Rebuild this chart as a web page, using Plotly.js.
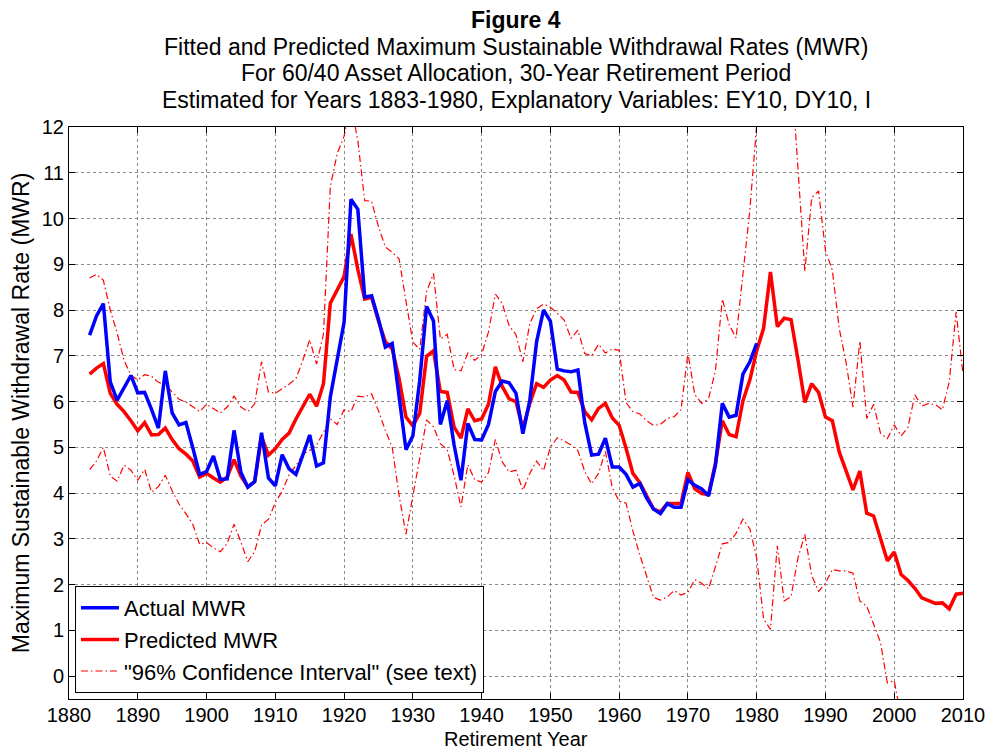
<!DOCTYPE html>
<html>
<head>
<meta charset="utf-8">
<script src="https://cdn.plot.ly/plotly-3.0.1.min.js"></script>
<style>html,body{margin:0;padding:0;background:#fff;}#chart{width:991px;height:751px;}</style>
</head>
<body>
<div id="chart"></div>
<script>
// ---- Data ----
var startYear = 1883;
var endYearActual = 1980;
var endYear = 2010;

var actualMWR = [7.45, 7.87, 8.14, 6.43, 6.03, 6.30, 6.57, 6.19, 6.20, 5.83,
  5.42, 6.67, 5.75, 5.49, 5.54, 4.99, 4.41, 4.47, 4.81, 4.30,
  4.31, 5.37, 4.45, 4.13, 4.25, 5.32, 4.33, 4.16, 4.84, 4.53,
  4.41, 4.83, 5.27, 4.59, 4.66, 6.10, 6.92, 7.73, 10.42, 10.20,
  8.28, 8.31, 7.80, 7.19, 7.27, 6.18, 4.95, 5.25, 6.46, 8.08,
  7.76, 5.50, 6.02, 5.05, 4.28, 5.52, 5.17, 5.16, 5.50, 6.22,
  6.45, 6.41, 6.18, 5.30, 6.02, 7.31, 8.00, 7.76, 6.71, 6.67,
  6.65, 6.69, 5.54, 4.83, 4.85, 5.20, 4.57, 4.57, 4.41, 4.13,
  4.21, 3.89, 3.65, 3.55, 3.77, 3.69, 3.69, 4.29, 4.17, 4.09,
  3.94, 4.61, 5.96, 5.66, 5.70, 6.60, 6.87, 7.27];

var predictedMWR = [6.60, 6.73, 6.83, 6.18, 5.94, 5.78, 5.58, 5.36, 5.54, 5.27,
  5.28, 5.42, 5.17, 4.97, 4.85, 4.70, 4.35, 4.43, 4.33, 4.24,
  4.35, 4.73, 4.37, 4.14, 4.25, 5.23, 4.83, 4.97, 5.17, 5.31,
  5.62, 5.90, 6.16, 5.90, 6.39, 8.15, 8.45, 8.73, 9.66, 8.89,
  8.24, 8.28, 7.76, 7.31, 7.15, 6.50, 5.66, 5.47, 5.74, 6.99,
  7.11, 6.22, 6.20, 5.44, 5.20, 5.84, 5.58, 5.62, 5.94, 6.76,
  6.33, 6.06, 6.00, 5.40, 5.96, 6.39, 6.31, 6.47, 6.57, 6.47,
  6.21, 6.20, 5.78, 5.60, 5.85, 5.96, 5.64, 5.48, 4.98, 4.43,
  4.23, 3.93, 3.65, 3.59, 3.77, 3.77, 3.77, 4.45, 4.09, 3.99,
  3.97, 4.65, 5.58, 5.28, 5.23, 6.02, 6.47, 7.11, 7.60, 8.83,
  7.64, 7.82, 7.79, 6.92, 5.98, 6.39, 6.20, 5.66, 5.58, 4.90,
  4.49, 4.07, 4.48, 3.56, 3.50, 3.04, 2.52, 2.71, 2.22, 2.09,
  1.92, 1.71, 1.65, 1.59, 1.60, 1.47, 1.79, 1.81];

var ciUpper = [8.70, 8.78, 8.65, 8.00, 7.50, 6.90, 6.58, 6.47, 6.59, 6.55,
  6.42, 6.37, 6.21, 6.05, 5.99, 5.89, 5.78, 5.94, 5.84, 5.75,
  5.88, 6.12, 5.88, 5.78, 5.95, 6.87, 6.21, 6.18, 6.28, 6.38,
  6.50, 6.90, 7.35, 6.82, 7.47, 10.70, 11.42, 11.80, 12.50, 11.70,
  10.39, 10.38, 9.82, 9.38, 9.26, 9.12, 8.20, 7.30, 7.14, 8.40,
  8.80, 7.37, 7.47, 6.70, 6.67, 7.06, 6.90, 7.03, 7.52, 8.35,
  8.14, 7.66, 7.46, 6.87, 7.70, 8.03, 8.13, 8.06, 7.93, 7.78,
  7.38, 7.56, 7.05, 7.00, 7.25, 7.06, 7.15, 7.12, 5.98, 5.78,
  5.73, 5.58, 5.48, 5.50, 5.63, 5.67, 5.82, 7.06, 6.15, 5.96,
  6.06, 6.67, 8.24, 7.68, 7.39, 8.77, 10.18, 12.05, 13.50, 14.50,
  14.00, 13.80, 13.35, 11.10, 8.85, 10.46, 10.60, 9.30, 8.87, 7.60,
  6.85, 5.88, 7.32, 5.63, 5.94, 5.31, 5.19, 5.49, 5.25, 5.44,
  6.15, 5.90, 5.96, 5.93, 5.82, 6.43, 7.96, 6.60];

var ciLower = [4.51, 4.70, 5.00, 4.37, 4.26, 4.61, 4.50, 4.28, 4.52, 4.02,
  4.14, 4.39, 4.05, 3.76, 3.55, 3.32, 2.88, 2.92, 2.80, 2.72,
  2.90, 3.32, 2.93, 2.50, 2.72, 3.30, 3.43, 3.79, 4.04, 4.40,
  4.60, 4.85, 4.93, 5.05, 5.33, 5.62, 5.50, 5.82, 5.78, 6.12,
  6.10, 6.17, 5.80, 5.37, 5.00, 3.95, 3.10, 3.92, 4.80, 5.60,
  5.45, 5.08, 4.95, 4.38, 3.70, 4.62, 4.29, 4.24, 4.45, 5.17,
  4.68, 4.46, 4.50, 4.06, 4.43, 4.70, 4.49, 5.00, 5.21, 5.14,
  5.05, 4.93, 4.47, 4.20, 4.43, 4.91, 4.12, 3.82, 3.78, 3.17,
  2.65, 2.20, 1.72, 1.66, 1.73, 1.87, 1.77, 1.83, 2.11, 2.03,
  1.91, 2.39, 2.89, 2.92, 3.12, 3.43, 3.22, 2.58, 1.25, 1.02,
  2.85, 1.64, 1.74, 2.58, 3.10, 2.20, 1.85, 2.03, 2.33, 2.30,
  2.30, 2.25, 1.64, 1.53, 1.15, 0.74, -0.15, -0.10, -0.90, null,
  null, null, null, null, null, null, null, null];

var xTickVals = [1880, 1890, 1900, 1910, 1920, 1930, 1940, 1950, 1960, 1970, 1980, 1990, 2000, 2010];
var yTickVals = [0, 1, 2, 3, 4, 5, 6, 7, 8, 9, 10, 11, 12];

var titleLines = [
  "<b>Figure 4</b>",
  "Fitted and Predicted Maximum Sustainable Withdrawal Rates (MWR)",
  "For 60/40 Asset Allocation, 30-Year Retirement Period",
  "Estimated for Years 1883-1980, Explanatory Variables: EY10, DY10, I"
];
var legendNames = ["Actual MWR", "Predicted MWR", "\"96% Confidence Interval\" (see text)"];
var xTitle = "Retirement Year";
var yTitle = "Maximum Sustainable Withdrawal Rate (MWR)";

// ---- Build ----
var yearsAll = [];
for (var y = startYear; y <= endYear; y++) yearsAll.push(y);
var yearsActual = yearsAll.slice(0, endYearActual - startYear + 1);

var FONT = "Arial, 'Liberation Sans', sans-serif";
var ciDash = "7px,3px,1.5px,3px";

var traces = [
  {x: yearsAll, y: ciLower, mode: "lines", name: legendNames[2], legendgroup: "ci", showlegend: false,
   line: {color: "#ff0000", width: 1.2, dash: ciDash}, connectgaps: false},
  {x: yearsAll, y: ciUpper, mode: "lines", name: legendNames[2], legendgroup: "ci", legendrank: 3,
   line: {color: "#ff0000", width: 1.2, dash: ciDash}},
  {x: yearsAll, y: predictedMWR, mode: "lines", name: legendNames[1], legendrank: 2,
   line: {color: "#ff0000", width: 3.5}},
  {x: yearsActual, y: actualMWR, mode: "lines", name: legendNames[0], legendrank: 1,
   line: {color: "#0000ff", width: 3.5}}
];

var plotTop = 127, plotBottom = 699, H = plotBottom - plotTop;
function py(p) { return (plotBottom - p) / H; }
var titleY = [20, 47, 73, 100];
var titleSize = [23, 23, 23, 23];
var annotations = titleLines.map(function (t, i) {
  return {text: t, xref: "paper", yref: "paper", x: 0.5, y: py(titleY[i]), xanchor: "center", yanchor: "middle",
          showarrow: false, font: {family: FONT, size: titleSize[i], color: "#000"}};
});
annotations.push({text: xTitle, xref: "paper", yref: "paper", x: 0.5, y: py(750.5), xanchor: "center", yanchor: "bottom",
                  showarrow: false, borderpad: 0, font: {family: FONT, size: 20, color: "#000"}});

var axisCommon = {
  showline: true, linecolor: "#000", linewidth: 1, mirror: "ticks",
  ticks: "inside", ticklen: 6, tickcolor: "#000", tickwidth: 1,
  showgrid: true, gridcolor: "#8a8a8a", gridwidth: 1, griddash: "dot",
  zeroline: false, tickfont: {family: FONT, size: 20, color: "#000"}
};

var layout = {
  width: 991, height: 751,
  margin: {l: 69, r: 28, t: plotTop, b: 751 - plotBottom},
  paper_bgcolor: "#fff", plot_bgcolor: "#fff",
  showlegend: true,
  legend: {x: 0.0067, y: py(693), xanchor: "left", yanchor: "bottom",
           bgcolor: "#fff", bordercolor: "#000", borderwidth: 1,
           font: {family: FONT, size: 22, color: "#000"}, tracegroupgap: 0, itemwidth: 38},
  xaxis: Object.assign({}, axisCommon, {range: [1880, 2010], tickvals: xTickVals, ticklabelstandoff: -2}),
  yaxis: Object.assign({}, axisCommon, {range: [-0.5, 12], tickvals: yTickVals,
          title: {text: yTitle, font: {family: FONT, size: 23, color: "#000"}, standoff: 5}}),
  annotations: annotations
};

Plotly.newPlot("chart", traces, layout, {staticPlot: true, displayModeBar: false});
</script>
</body>
</html>
